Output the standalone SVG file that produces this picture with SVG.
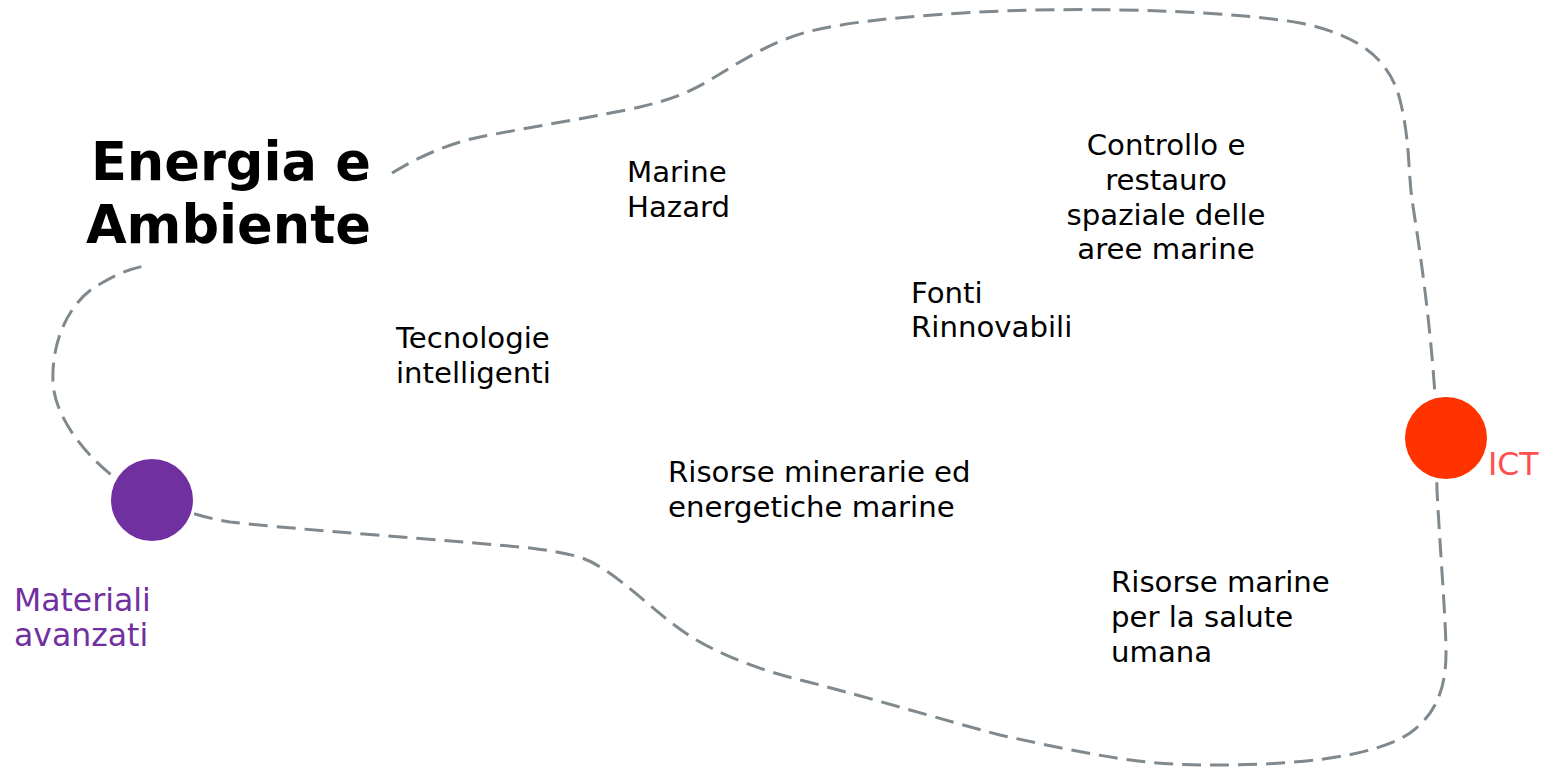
<svg xmlns="http://www.w3.org/2000/svg" width="1555" height="768" viewBox="0 0 1555 768">
<style>
.t{font-family:"DejaVu Sans","Verdana",sans-serif;font-size:29.2px;fill:#000}
.lbl{font-family:"DejaVu Sans","Verdana",sans-serif;font-size:31.5px}
.title{font-family:"DejaVu Sans","Verdana",sans-serif;font-size:52.6px;font-weight:bold;fill:#000}
.link{fill:none;stroke:#7F898E;stroke-width:3;stroke-dasharray:19 9}
</style>
<rect width="1555" height="768" fill="#fff"/>
<g id="connectors">
<path class="link" d="M392,173 C420,156 450,143 480,137 C530,127 600,116 640,107 C670,100 690,92 710,80 C740,62 770,42 807,32 C850,20 950,12 1033,10 C1150,8 1250,14 1300,23 C1360,35 1390,60 1400,100 C1410,140 1408,170 1412,200 C1420,250 1430,320 1435,395 L1437,490 C1440,550 1446,620 1446,653 C1446,690 1435,715 1410,733 C1370,760 1280,765 1217,765 C1150,766 1100,757 1000,735 C950,722 850,692 800,680 C760,670 720,655 690,636 C660,617 630,585 600,567 C585,557 570,553 530,548 C450,540 300,530 230,522 C210,519 190,513 152,500 L118,480 C90,460 55,420 53,383 C51,340 70,300 100,284 C115,275 130,268 150,265"/>
</g>
<g id="title">
<text class="title" text-anchor="end" x="371" y="180">Energia e</text>
<text class="title" text-anchor="end" x="371" y="243">Ambiente</text>
</g>
<g id="materiali">
<circle cx="152" cy="500" r="41" fill="#7030A0"/>
<text class="lbl" x="14" y="611" fill="#7030A0">Materiali</text>
<text class="lbl" x="14" y="646" fill="#7030A0">avanzati</text>
</g>
<g id="ict">
<circle cx="1446" cy="438" r="41" fill="#FF3300"/>
<text class="lbl" x="1488" y="475" fill="#FF5050">ICT</text>
</g>
<g id="marine-hazard">
<text class="t" x="627" y="182">Marine</text>
<text class="t" x="627" y="217">Hazard</text>
</g>
<g id="tecnologie">
<text class="t" x="396" y="348">Tecnologie</text>
<text class="t" x="396" y="383">intelligenti</text>
</g>
<g id="fonti">
<text class="t" x="911" y="303">Fonti</text>
<text class="t" x="911" y="337">Rinnovabili</text>
</g>
<g id="controllo">
<text class="t" text-anchor="middle" x="1166" y="155">Controllo e</text>
<text class="t" text-anchor="middle" x="1166" y="190">restauro</text>
<text class="t" text-anchor="middle" x="1166" y="225">spaziale delle</text>
<text class="t" text-anchor="middle" x="1166" y="259">aree marine</text>
</g>
<g id="risorse-minerarie">
<text class="t" x="668" y="482">Risorse minerarie ed</text>
<text class="t" x="668" y="517">energetiche marine</text>
</g>
<g id="risorse-salute">
<text class="t" x="1111" y="592">Risorse marine</text>
<text class="t" x="1111" y="627">per la salute</text>
<text class="t" x="1111" y="662">umana</text>
</g>
</svg>
